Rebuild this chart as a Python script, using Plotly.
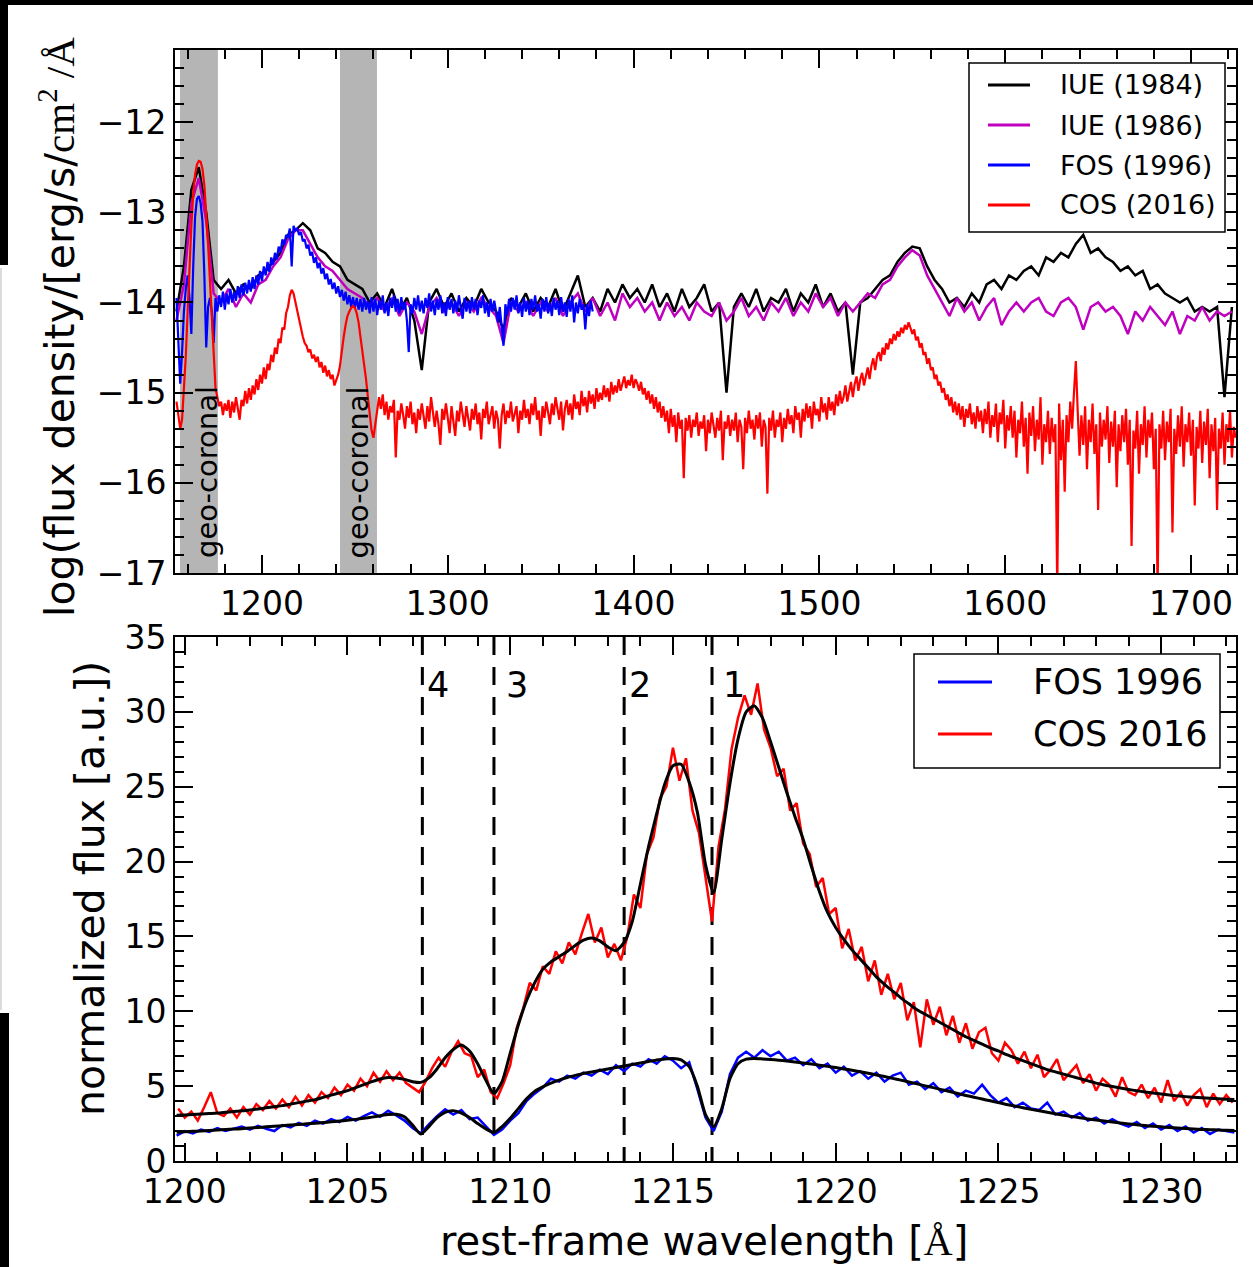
import numpy as np
import plotly.graph_objects as go

W, H = 1253, 1267
FONT = "DejaVu Sans"
SERIF = "Liberation Serif"

# ---------------------------------------------------------------
# Upper panel: log flux density of the UV spectra (1150-1725 A)
# ---------------------------------------------------------------
iue_start, iue_step = 1154.0, 4.0
iue1984_logf = [
    -14.10, -13.60, -12.75, -12.50, -13.00, -13.75, -13.85, -13.75, -13.90, -13.80,
    -13.85, -13.70, -13.65, -13.55, -13.45, -13.25, -13.20, -13.12, -13.20, -13.40,
    -13.45, -13.55, -13.60, -13.75, -13.80, -13.85, -14.00, -13.90, -14.05, -13.85,
    -14.10, -13.95, -14.20, -14.75, -14.00, -13.85, -14.05, -13.90, -14.10, -13.95,
    -14.05, -13.85, -14.00, -14.10, -14.30, -13.95, -14.05, -13.90, -14.10, -13.95,
    -14.05, -13.85, -14.10, -13.90, -13.70, -14.05, -13.95, -14.10, -13.85, -14.00,
    -13.80, -13.95, -13.85, -14.00, -13.80, -14.05, -13.90, -14.10, -13.85, -14.05,
    -13.95, -13.80, -14.10, -14.00, -15.00, -14.05, -13.90, -14.05, -13.85, -14.10,
    -13.95, -14.00, -13.85, -14.10, -13.90, -14.00, -13.80, -14.05, -13.90, -14.10,
    -14.00, -14.80, -14.00, -13.95, -13.85, -13.75, -13.70, -13.55, -13.45, -13.38,
    -13.40, -13.60, -13.75, -13.85, -14.00, -13.95, -14.05, -13.90, -14.00, -13.80,
    -13.75, -13.85, -13.70, -13.75, -13.65, -13.60, -13.70, -13.50, -13.55, -13.45,
    -13.50, -13.35, -13.25, -13.45, -13.40, -13.50, -13.55, -13.65, -13.60, -13.70,
    -13.65, -13.85, -13.80, -13.90, -13.95, -14.00, -13.95, -14.10, -14.05, -14.10,
    -14.05, -15.05, -14.05,
]
iue1986_logf = [
    -14.20, -13.80, -12.90, -12.62, -13.10, -13.90, -14.00, -13.85, -14.05, -13.90,
    -14.00, -13.80, -13.75, -13.60, -13.50, -13.30, -13.20, -13.20, -13.35, -13.50,
    -13.60, -13.65, -13.75, -13.85, -13.90, -13.95, -14.05, -13.95, -14.10, -13.95,
    -14.15, -14.00, -14.10, -14.35, -14.05, -13.95, -14.10, -14.00, -14.15, -14.00,
    -14.10, -13.95, -14.05, -14.15, -14.45, -14.00, -14.10, -14.00, -14.15, -14.00,
    -14.10, -13.95, -14.15, -14.00, -13.90, -14.10, -13.95, -14.15, -14.00, -14.20,
    -13.90, -14.05, -13.95, -14.10, -14.00, -14.20, -14.00, -14.15, -14.05, -14.20,
    -14.00, -14.10, -14.15, -14.00, -14.20, -14.10, -13.95, -14.15, -14.05, -14.20,
    -14.00, -14.10, -13.95, -14.15, -14.00, -14.10, -13.90, -14.05, -13.95, -14.15,
    -14.00, -14.10, -14.00, -13.90, -13.95, -13.80, -13.75, -13.60, -13.50, -13.42,
    -13.48, -13.70, -13.85, -14.00, -14.15, -13.95, -14.10, -14.00, -14.20, -14.05,
    -13.95, -14.25, -14.10, -14.00, -14.10, -14.00, -13.95, -14.10, -14.15, -14.00,
    -13.95, -14.05, -14.30, -14.05, -14.00, -14.10, -14.05, -14.15, -14.35, -14.10,
    -14.20, -14.05, -14.15, -14.25, -14.10, -14.35, -14.15, -14.20, -14.05, -14.20,
    -14.10, -14.15, -14.10,
]

fos_top_start, fos_top_step = 1154.0, 1.0
fos1996_logf = [
    -13.95, -14.35, -14.90, -14.55, -14.10, -13.85, -13.70, -13.95, -14.35, -13.60,
    -13.05, -12.85, -12.82, -12.90, -13.10, -13.70, -14.50, -14.05, -13.95, -14.10,
    -14.45, -13.95, -14.10, -13.92, -14.05, -13.88, -14.08, -13.90, -14.02, -13.85,
    -14.00, -13.88, -13.98, -13.82, -13.95, -13.80, -13.92, -13.78, -13.90, -13.75,
    -13.88, -13.72, -13.85, -13.70, -13.80, -13.65, -13.76, -13.60, -13.70, -13.55,
    -13.66, -13.50, -13.58, -13.45, -13.52, -13.38, -13.44, -13.30, -13.36, -13.25,
    -13.28, -13.18, -13.60, -13.15, -13.20, -13.18, -13.25, -13.22, -13.32, -13.30,
    -13.40, -13.36, -13.48, -13.44, -13.56, -13.50, -13.62, -13.56, -13.68, -13.62,
    -13.74, -13.68, -13.80, -13.74, -13.85, -13.78, -13.90, -13.82, -13.94, -13.86,
    -13.98, -13.88, -14.02, -13.92, -14.05, -13.94, -14.06, -13.95, -14.08, -13.96,
    -14.10, -13.95, -14.08, -13.98, -14.12, -13.94, -14.10, -13.96, -14.14, -13.98,
    -14.08, -13.92, -14.12, -14.00, -14.15, -13.95, -14.06, -13.92, -14.10, -13.96,
    -14.12, -13.94, -14.08, -14.00, -14.20, -14.55, -14.02, -14.12, -13.95, -14.08,
    -13.92, -14.10, -13.98, -14.12, -13.95, -14.06, -13.90, -14.10, -13.98, -14.14,
    -13.96, -14.08, -13.92, -14.12, -14.00, -14.15, -13.94, -14.08, -13.96, -14.12,
    -13.98, -14.10, -13.92, -14.06, -14.18, -13.95, -14.10, -13.98, -14.12, -13.94,
    -14.08, -13.96, -14.14, -13.98, -14.06, -13.92, -14.12, -14.00, -14.16, -13.96,
    -14.10, -13.98, -14.12, -14.22, -14.05, -14.30, -14.48, -14.02, -14.14, -13.96,
    -14.10, -13.95, -14.08, -13.92, -14.12, -14.00, -14.16, -13.95, -14.10, -13.98,
    -14.14, -13.96, -14.08, -13.92, -14.10, -14.02, -14.18, -13.96, -14.10, -13.94,
    -14.12, -14.00, -14.15, -13.95, -14.08, -13.98, -14.14, -13.94, -14.10, -14.00,
    -14.16, -13.96, -14.10, -13.92, -14.22, -14.00, -14.12, -13.96, -14.08, -14.02,
    -14.30, -14.02, -14.15, -13.98, -14.10,
]

cos_top_start, cos_top_step = 1154.0, 1.0
cos2016_logf = [
    -15.10, -15.25, -15.40, -15.30, -15.00, -14.60, -14.10, -13.60, -13.15, -12.80,
    -12.58, -12.47, -12.43, -12.44, -12.52, -12.70, -12.98, -13.35, -13.75, -14.20,
    -14.60, -14.95, -15.05, -15.15, -15.10, -15.25, -15.12, -15.20, -15.08, -15.28,
    -15.10, -15.22, -15.05, -15.18, -15.30, -15.08, -15.15, -14.98, -15.12, -14.95,
    -15.08, -14.92, -15.02, -14.85, -14.97, -14.80, -14.90, -14.72, -14.85, -14.68,
    -14.75, -14.58, -14.66, -14.50, -14.57, -14.40, -14.45, -14.28, -14.30, -14.12,
    -14.05, -13.92, -13.86, -13.90, -14.00, -14.12, -14.22, -14.30, -14.38, -14.45,
    -14.48, -14.55, -14.52, -14.62, -14.58, -14.66, -14.60, -14.72, -14.66, -14.78,
    -14.70, -14.82, -14.75, -14.85, -14.80, -14.92, -14.85, -14.80, -14.70, -14.50,
    -14.38, -14.25, -14.15, -14.10, -14.06, -14.04, -14.06, -14.12, -14.22, -14.38,
    -14.52, -14.68, -14.85, -15.05, -15.25, -15.42, -15.50, -15.35, -15.20, -15.05,
    -15.18, -15.02, -15.25, -15.10, -15.30, -15.15, -15.22, -15.08, -15.72, -15.20,
    -15.30, -15.12, -15.25, -15.40, -15.15, -15.28, -15.10, -15.35, -15.22, -15.45,
    -15.18, -15.30, -15.12, -15.26, -15.40, -15.15, -15.32, -15.05, -15.25, -15.38,
    -15.20, -15.35, -15.58, -15.18, -15.30, -15.12, -15.28, -15.45, -15.15, -15.30,
    -15.48, -15.20, -15.32, -15.10, -15.26, -15.38, -15.15, -15.30, -15.42, -15.18,
    -15.30, -15.12, -15.35, -15.22, -15.52, -15.18, -15.28, -15.10, -15.35, -15.25,
    -15.15, -15.40, -15.20, -15.30, -15.62, -15.25, -15.12, -15.35, -15.20, -15.28,
    -15.10, -15.32, -15.22, -15.15, -15.45, -15.20, -15.30, -15.08, -15.28, -15.18,
    -15.35, -15.12, -15.25, -15.05, -15.30, -15.20, -15.48, -15.15, -15.28, -15.10,
    -15.22, -15.35, -15.12, -15.25, -15.05, -15.20, -15.30, -15.10, -15.42, -15.18,
    -15.08, -15.25, -15.12, -15.30, -15.02, -15.18, -15.10, -15.25, -14.98, -15.15,
    -15.05, -15.22, -14.98, -15.12, -15.02, -15.18, -14.95, -15.10, -15.00, -15.08,
    -14.92, -15.05, -14.95, -15.10, -14.88, -15.02, -14.92, -15.00, -14.85, -14.98,
    -14.90, -14.82, -14.95, -14.86, -14.92, -14.80, -14.95, -14.85, -14.90, -14.98,
    -14.88, -15.02, -14.95, -15.08, -14.98, -15.12, -15.02, -15.18, -15.05, -15.22,
    -15.10, -15.28, -15.15, -15.32, -15.20, -15.45, -15.18, -15.38, -15.25, -15.55,
    -15.22, -15.40, -15.30, -15.95, -15.28, -15.42, -15.25, -15.50, -15.30, -15.38,
    -15.22, -15.48, -15.32, -15.40, -15.25, -15.65, -15.30, -15.45, -15.22, -15.38,
    -15.50, -15.28, -15.42, -15.20, -15.75, -15.32, -15.40, -15.25, -15.48, -15.30,
    -15.42, -15.22, -15.55, -15.30, -15.38, -15.85, -15.28, -15.45, -15.20, -15.40,
    -15.30, -15.52, -15.25, -15.40, -15.22, -15.60, -15.30, -15.38, -16.12, -15.28,
    -15.42, -15.20, -15.50, -15.30, -15.38, -15.22, -15.55, -15.28, -15.40, -15.18,
    -15.35, -15.25, -15.45, -15.15, -15.30, -15.22, -15.50, -15.18, -15.32, -15.12,
    -15.28, -15.15, -15.40, -15.10, -15.25, -15.18, -15.32, -15.05, -15.22, -15.12,
    -15.30, -15.05, -15.20, -15.10, -15.25, -15.02, -15.15, -14.98, -15.12, -15.05,
    -14.92, -15.10, -14.98, -14.88, -15.05, -14.90, -14.82, -14.98, -14.85, -14.78,
    -14.92, -14.80, -14.72, -14.85, -14.70, -14.62, -14.75, -14.60, -14.55, -14.65,
    -14.50, -14.58, -14.45, -14.52, -14.40, -14.46, -14.35, -14.42, -14.32, -14.38,
    -14.28, -14.34, -14.25, -14.30, -14.22, -14.28, -14.35, -14.30, -14.42, -14.38,
    -14.50, -14.45, -14.58, -14.55, -14.68, -14.62, -14.75, -14.72, -14.85, -14.80,
    -14.92, -14.88, -15.00, -14.95, -15.08, -15.02, -15.15, -15.05, -15.22, -15.10,
    -15.25, -15.12, -15.30, -15.15, -15.38, -15.18, -15.28, -15.12, -15.35, -15.22,
    -15.40, -15.15, -15.32, -15.20, -15.45, -15.18, -15.35, -15.10, -15.50, -15.25,
    -15.38, -15.12, -15.55, -15.22, -15.35, -15.08, -15.62, -15.25, -15.42, -15.15,
    -15.50, -15.20, -15.72, -15.30, -15.45, -15.10, -15.60, -15.28, -15.90, -15.22,
    -15.48, -15.15, -15.65, -15.30, -15.52, -15.05, -15.80, -15.35, -15.55, -15.20,
    -15.68, -15.28, -15.55, -15.35, -17.20, -15.12, -15.75, -15.30, -16.10, -15.25,
    -15.55, -15.10, -15.40, -15.00, -14.65, -15.20, -15.70, -15.25, -15.58, -15.15,
    -15.85, -15.30, -15.55, -15.12, -15.68, -15.35, -16.30, -15.22, -15.60, -15.30,
    -15.52, -15.15, -15.78, -15.32, -15.60, -15.20, -16.05, -15.35, -15.65, -15.25,
    -15.55, -15.18, -15.80, -15.30, -16.70, -15.42, -15.62, -15.20, -15.90, -15.35,
    -15.58, -15.15, -15.72, -15.30, -15.50, -15.22, -15.85, -15.40, -17.20, -15.35,
    -15.62, -15.20, -15.75, -15.32, -15.55, -15.18, -16.55, -15.40, -15.68, -15.25,
    -15.60, -15.15, -15.82, -15.35, -15.55, -15.22, -15.70, -15.30, -16.25, -15.38,
    -15.62, -15.20, -15.78, -15.32, -15.58, -15.18, -15.95, -15.35, -15.65, -15.28,
    -16.30, -15.40, -15.62, -15.22, -15.80, -15.35, -15.55, -15.20, -15.72, -15.38,
    -15.50,
]

geocoronal_bands = [(1155.9, 1176.3), (1242.0, 1261.9)]
geocoronal_text_x = [1170.4, 1251.9]

# ---------------------------------------------------------------
# Lower panel: normalized Lyman-alpha profiles and model fits
# ---------------------------------------------------------------
cos_ly_start, cos_ly_step = 1199.8, 0.2
cos2016_norm = [
    3.5, 2.9, 3.3, 2.7, 3.6, 4.6, 3.2, 3.0, 3.5, 2.9,
    3.6, 3.1, 3.8, 3.4, 4.0, 3.5, 4.1, 3.6, 4.3, 3.7,
    4.4, 3.9, 4.6, 4.2, 4.9, 4.4, 5.1, 4.7, 5.5, 5.0,
    5.9, 5.3, 6.0, 5.4, 5.9, 5.2, 4.9, 4.6, 5.3, 6.2,
    6.9, 6.3, 7.3, 8.0, 7.2, 7.0, 5.6, 6.1, 4.6, 4.2,
    5.2, 6.4, 8.9, 10.2, 11.9, 11.4, 13.0, 12.5, 14.0, 13.2,
    14.6, 13.8, 15.2, 16.5, 14.6, 15.6, 13.6, 14.5, 13.4, 15.0,
    17.8, 16.9, 20.5, 21.6, 24.2, 25.0, 27.6, 25.4, 26.9, 23.4,
    21.9, 19.0, 16.0, 21.0, 23.5, 27.5, 29.6, 31.1, 29.8, 31.9,
    28.8, 27.6, 25.7, 26.2, 23.4, 23.9, 21.2, 20.5, 18.3, 18.9,
    16.5, 16.9, 14.2, 15.5, 13.4, 14.3, 12.0, 13.4, 11.1, 12.5,
    10.8, 11.9, 9.4, 10.6, 7.6, 10.8, 9.1, 10.3, 8.4, 9.7,
    7.9, 9.2, 7.5, 8.6, 8.9, 7.2, 6.7, 7.9, 7.4, 6.5,
    7.3, 6.2, 7.1, 5.6, 6.1, 6.8, 5.4, 5.9, 6.4, 5.2,
    5.8, 4.7, 5.5, 5.1, 4.3, 5.6, 4.6, 4.4, 5.1, 4.2,
    4.9, 3.9, 5.4, 4.0, 4.6, 3.7, 4.4, 4.8, 3.6, 4.5,
    3.8, 4.4, 3.9,
]

ly_start, ly_step = 1199.75, 0.25
fos1996_norm = [
    1.70, 2.00, 1.85, 2.10, 1.95, 2.20, 2.00, 2.15, 2.30, 2.10,
    2.35, 2.15, 2.00, 2.40, 2.25, 2.55, 2.35, 2.70, 2.50, 2.80,
    2.60, 2.95, 2.70, 3.00, 3.25, 2.95, 3.35, 3.05, 2.70, 2.20,
    1.85, 2.45, 3.00, 3.45, 3.10, 3.40, 2.80, 2.90, 2.30, 1.75,
    2.10, 2.70, 3.20, 4.00, 4.50, 4.90, 5.50, 5.30, 5.70, 5.50,
    5.90, 5.70, 6.10, 5.80, 6.40, 6.00, 6.50, 6.30, 6.80, 6.50,
    7.00, 6.70, 6.20, 6.60, 4.80, 2.90, 2.00, 3.30, 5.80, 6.90,
    7.30, 6.90, 7.40, 7.00, 7.30, 6.70, 6.90, 6.40, 6.80, 6.20,
    6.50, 5.90, 6.30, 5.70, 6.00, 5.50, 5.90, 5.30, 5.70, 5.90,
    5.10, 5.30, 4.80, 5.20, 4.60, 4.90, 4.30, 4.70, 4.50, 5.10,
    4.40, 3.90, 4.20, 3.60, 3.90, 3.50, 3.40, 3.90, 3.10, 3.30,
    2.90, 3.20, 2.70, 2.90, 2.50, 2.80, 2.50, 2.30, 2.60, 2.20,
    2.50, 2.10, 2.40, 2.00, 2.30, 1.90, 2.20, 1.80, 2.10, 2.00,
    1.90,
]
cos_fit = [
    3.05, 3.08, 3.11, 3.14, 3.17, 3.20, 3.25, 3.30, 3.35, 3.40,
    3.47, 3.55, 3.62, 3.70, 3.80, 3.90, 4.00, 4.10, 4.25, 4.40,
    4.55, 4.70, 4.90, 5.10, 5.30, 5.48, 5.58, 5.55, 5.45, 5.30,
    5.25, 5.55, 6.15, 6.90, 7.45, 7.75, 7.35, 6.50, 5.40, 4.50,
    5.30, 7.20, 9.10, 10.70, 11.90, 12.80, 13.30, 13.65, 14.00, 14.40,
    14.75, 14.90, 14.70, 14.30, 14.05, 14.60, 16.00, 18.50, 21.00, 23.20,
    25.20, 26.40, 26.50, 25.30, 23.30, 19.80, 17.90, 21.50, 25.20, 28.20,
    30.00, 30.40, 29.60, 28.00, 26.30, 24.60, 23.00, 21.50, 19.70, 18.00,
    16.60, 15.60, 14.80, 14.10, 13.50, 12.90, 12.30, 11.80, 11.35, 10.90,
    10.50, 10.10, 9.80, 9.50, 9.20, 8.90, 8.60, 8.30, 8.05, 7.80,
    7.55, 7.35, 7.10, 6.90, 6.70, 6.50, 6.30, 6.10, 5.95, 5.80,
    5.65, 5.50, 5.35, 5.20, 5.08, 4.97, 4.87, 4.78, 4.69, 4.61,
    4.54, 4.47, 4.41, 4.35, 4.30, 4.26, 4.22, 4.19, 4.16, 4.13,
    4.10,
]
fos_fit = [
    1.92, 1.95, 1.98, 2.01, 2.04, 2.07, 2.10, 2.13, 2.16, 2.20,
    2.24, 2.28, 2.32, 2.36, 2.40, 2.44, 2.48, 2.52, 2.57, 2.62,
    2.67, 2.72, 2.78, 2.85, 2.93, 3.02, 3.10, 3.12, 2.95, 2.40,
    1.80, 2.30, 2.90, 3.25, 3.35, 3.20, 2.90, 2.50, 2.15, 1.90,
    2.30, 2.85, 3.50, 4.15, 4.65, 4.95, 5.20, 5.40, 5.58, 5.72,
    5.85, 5.95, 6.05, 6.15, 6.25, 6.35, 6.45, 6.55, 6.65, 6.75,
    6.82, 6.85, 6.75, 6.30, 5.00, 3.10, 2.30, 3.50, 5.50, 6.50,
    6.80, 6.85, 6.82, 6.78, 6.73, 6.68, 6.62, 6.55, 6.48, 6.40,
    6.32, 6.24, 6.15, 6.06, 5.96, 5.86, 5.75, 5.64, 5.52, 5.40,
    5.28, 5.15, 5.02, 4.90, 4.77, 4.64, 4.51, 4.38, 4.26, 4.14,
    4.02, 3.90, 3.78, 3.67, 3.56, 3.45, 3.35, 3.25, 3.15, 3.06,
    2.97, 2.89, 2.81, 2.74, 2.67, 2.60, 2.54, 2.48, 2.42, 2.37,
    2.32, 2.28, 2.24, 2.20, 2.17, 2.14, 2.11, 2.09, 2.07, 2.05,
    2.03,
]

absorber_wl = [1216.2, 1213.5, 1209.5, 1207.3]
absorber_labels = ["1", "2", "3", "4"]


def grid(start, step, values):
    return start + step * np.arange(len(values))


def px(x):
    return x / W


def py(y):
    return 1 - y / H


fig = go.Figure()

# upper panel traces
top_series = [
    (grid(iue_start, iue_step, iue1984_logf), iue1984_logf, "#000000", "IUE (1984)", 2.5),
    (grid(iue_start, iue_step, iue1986_logf), iue1986_logf, "#bf00bf", "IUE (1986)", 2.5),
    (grid(fos_top_start, fos_top_step, fos1996_logf), fos1996_logf, "#0000ff", "FOS (1996)", 2.2),
    (grid(cos_top_start, cos_top_step, cos2016_logf), cos2016_logf, "#ff0000", "COS (2016)", 2.2),
]
for xs, ys, col, name, lw in top_series:
    fig.add_trace(go.Scatter(x=xs, y=ys, mode="lines", name=name,
                             line=dict(color=col, width=lw),
                             xaxis="x", yaxis="y", showlegend=False))

# lower panel traces
fig.add_trace(go.Scatter(x=grid(cos_ly_start, cos_ly_step, cos2016_norm), y=cos2016_norm,
                         mode="lines", name="COS 2016", line=dict(color="#ff0000", width=2.5),
                         xaxis="x2", yaxis="y2", showlegend=False))
fig.add_trace(go.Scatter(x=grid(ly_start, ly_step, fos1996_norm), y=fos1996_norm,
                         mode="lines", name="FOS 1996", line=dict(color="#0000ff", width=2.5),
                         xaxis="x2", yaxis="y2", showlegend=False))
for fit in (cos_fit, fos_fit):
    fig.add_trace(go.Scatter(x=grid(ly_start, ly_step, fit), y=fit, mode="lines",
                             line=dict(color="#000000", width=3, shape="spline", smoothing=0.6),
                             xaxis="x2", yaxis="y2", showlegend=False, hoverinfo="skip"))

shapes = []
# geo-coronal contamination bands
for lo, hi in geocoronal_bands:
    shapes.append(dict(type="rect", xref="x", yref="y domain", x0=lo, x1=hi, y0=0, y1=1,
                       fillcolor="#b5b5b5", line=dict(width=0), layer="below"))
# absorber markers
for wl in absorber_wl:
    shapes.append(dict(type="line", xref="x2", yref="y2 domain", x0=wl, x1=wl, y0=1, y1=0,
                       line=dict(color="black", width=3, dash="18px,12px"), layer="below"))

annotations = []
for xg in geocoronal_text_x:
    annotations.append(dict(text="geo-coronal", xref="x", yref="paper", x=xg, y=py(472),
                            textangle=-90, showarrow=False, xanchor="center", yanchor="middle",
                            font=dict(family=FONT, size=29, color="black")))
label_px = {"1": 734, "2": 640, "3": 516.5, "4": 437.5}
for lab in absorber_labels:
    annotations.append(dict(text=lab, xref="paper", yref="paper", x=px(label_px[lab]), y=py(685),
                            showarrow=False, xanchor="center", yanchor="middle",
                            font=dict(family=FONT, size=35, color="black")))

# axis titles
annotations.append(dict(
    text=("log(flux density/[erg/s/<span style=\"font-family:%s\">cm<sup>2</sup>\u00a0/Å</span>" % SERIF),
    xref="paper", yref="paper", x=px(57), y=py(327), textangle=-90, showarrow=False,
    xanchor="center", yanchor="middle", font=dict(family=FONT, size=41, color="black")))
annotations.append(dict(
    text="normalized flux [a.u.])", xref="paper", yref="paper", x=px(90), y=py(889),
    textangle=-90, showarrow=False, xanchor="center", yanchor="middle",
    font=dict(family=FONT, size=41, color="black")))
annotations.append(dict(
    text="rest-frame wavelength [<span style=\"font-family:%s\">Å</span>]" % SERIF,
    xref="paper", yref="paper", x=px(704), y=py(1241), showarrow=False,
    xanchor="center", yanchor="middle", font=dict(family=FONT, size=40, color="black")))


# legends
def legend_box(x0, y0, x1, y1, rows, line_x0, line_x1, text_x, size):
    shapes.append(dict(type="rect", xref="paper", yref="paper", x0=px(x0), x1=px(x1),
                       y0=py(y1), y1=py(y0), fillcolor="white",
                       line=dict(color="black", width=1.5), layer="above"))
    for yrow, col, label in rows:
        shapes.append(dict(type="line", xref="paper", yref="paper", x0=px(line_x0), x1=px(line_x1),
                           y0=py(yrow), y1=py(yrow), line=dict(color=col, width=3), layer="above"))
        annotations.append(dict(text=label, xref="paper", yref="paper", x=px(text_x), y=py(yrow),
                                showarrow=False, xanchor="left", yanchor="middle",
                                font=dict(family=FONT, size=size, color="black")))


legend_box(969, 63, 1225, 232,
           [(85, "#000000", "IUE (1984)"), (125, "#bf00bf", "IUE (1986)"),
            (165, "#0000ff", "FOS (1996)"), (205, "#ff0000", "COS (2016)")],
           988, 1030, 1058, 27)
legend_box(914, 654, 1220, 768,
           [(682, "#0000ff", "FOS 1996"), (734, "#ff0000", "COS 2016")],
           938, 992, 1031, 35)

# dark scan border along the page edges
for x0, y0, x1, y1 in [(0, 0, W, 5), (0, 0, 8, 265), (0, 1013, 9, H)]:
    shapes.append(dict(type="rect", xref="paper", yref="paper", x0=px(x0), x1=px(x1),
                       y0=py(y1), y1=py(y0), fillcolor="black", line=dict(width=0), layer="above"))
shapes.append(dict(type="line", xref="paper", yref="paper", x0=px(1), x1=px(1), y0=py(1010), y1=py(268),
                   line=dict(color="#cfcfcf", width=1.5), layer="above"))


def axis_style(dtick, minor_dtick, rng, domain, anchor):
    return dict(
        range=rng, domain=domain, anchor=anchor, dtick=dtick, tick0=0,
        showline=True, linecolor="black", linewidth=2, mirror="allticks",
        ticks="inside", ticklen=18, tickwidth=2, tickcolor="black",
        minor=dict(ticks="inside", ticklen=9, tickwidth=2, tickcolor="black", dtick=minor_dtick,
                   tick0=0, showgrid=False),
        showgrid=False, zeroline=False, automargin=False,
        tickfont=dict(family=FONT, size=33, color="black"),
    )


xdom = [px(175), px(1236)]
fig.update_layout(
    width=W, height=H, margin=dict(l=0, r=0, t=0, b=0),
    paper_bgcolor="white", plot_bgcolor="white", showlegend=False,
    xaxis=axis_style(100, 20, [1153.2, 1724.2], xdom, "y"),
    yaxis=axis_style(1, 0.2, [-17, -11.2], [py(573), py(50)], "x"),
    xaxis2=axis_style(5, 1, [1199.7, 1232.3], xdom, "y2"),
    yaxis2=axis_style(5, 1, [0, 35], [py(1161), py(637)], "x2"),
    shapes=shapes, annotations=annotations,
)

fig.write_html("out.html", config={"displayModeBar": False})
